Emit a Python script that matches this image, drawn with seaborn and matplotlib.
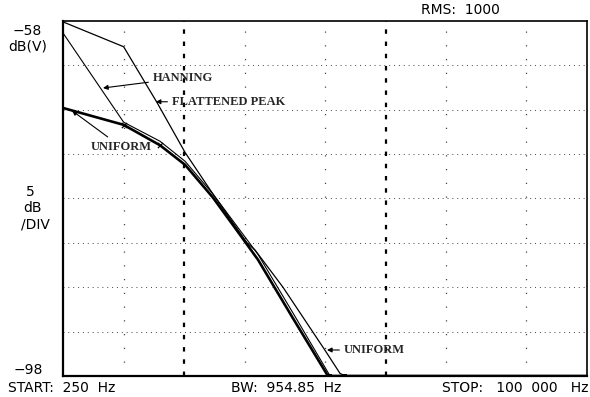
import numpy as np
import pandas as pd
import seaborn as sns
import matplotlib
matplotlib.use("Agg")
import matplotlib.pyplot as plt

# ---- data ----
freq_uniform = [250, 500, 758, 1009, 1389, 1786, 2324, 3467, 5172, 100000]
db_uniform = [-67.8, -69.7, -72.0, -74.2, -77.9, -81.3, -84.9, -91.5, -98.0, -98.0]

freq_hanning = [250, 500, 758, 1009, 1389, 2324, 3467, 5300, 100000]
db_hanning = [-59.35, -69.4, -71.55, -73.8, -77.5, -84.3, -90.9, -98.0, -98.0]

freq_flat = [250, 500, 733, 1009, 1389, 2050, 2246, 3093, 5000, 5933, 6283, 100000]
db_flat = [-58.1, -60.9, -67.2, -72.8, -77.5, -83.0, -83.8, -88.0, -95.1, -97.7, -98.0, -98.0]

y_top, y_bottom = -58, -98
f_start, f_stop = 250, 100000
major_freqs = [1000, 10000]
minor_freqs = [500, 2000, 5000, 20000, 50000]
db_grid = [-63, -68, -73, -78, -83, -88, -93]

sns.set_theme(style="white")
plt.rcParams["font.family"] = ["DejaVu Sans"]

W, H = 590, 397
fig = plt.figure(figsize=(W / 100, H / 100), dpi=100)
ax = fig.add_axes([63 / W, 1 - 376 / H, (587 - 63) / W, (376 - 21) / H])

# grid
for yv in db_grid:
    ax.axhline(yv, color="#444444", lw=0.7, ls=(0, (1, 4)), zorder=1)
for fv in minor_freqs:
    ax.axvline(fv, color="#444444", lw=0.9, ls=(0, (1, 10)), zorder=1)
for fv in major_freqs:
    ax.axvline(fv, color="black", lw=1.6, ls=(0, (2, 3.5)), zorder=1)

df_u = pd.DataFrame({"f": freq_uniform, "db": db_uniform})
df_h = pd.DataFrame({"f": freq_hanning, "db": db_hanning})
df_f = pd.DataFrame({"f": freq_flat, "db": db_flat})

sns.lineplot(data=df_f, x="f", y="db", ax=ax, color="black", lw=0.9, estimator=None, sort=False, zorder=3)
sns.lineplot(data=df_u, x="f", y="db", ax=ax, color="black", lw=1.9, estimator=None, sort=False, zorder=4)
sns.lineplot(data=df_h, x="f", y="db", ax=ax, color="black", lw=0.8, estimator=None, sort=False, zorder=5)

# small plotter markers
sns.scatterplot(x=[freq_uniform[1], freq_uniform[2]], y=[db_uniform[1], db_uniform[2]], ax=ax,
                marker="x", color="black", s=14, linewidth=0.9, zorder=6)
sns.scatterplot(x=[freq_hanning[7], freq_flat[10]], y=[db_hanning[7], db_flat[10]], ax=ax,
                marker="s", color="black", s=8, linewidth=0, zorder=6)

ax.set_xscale("log")
ax.set_xlim(f_start, f_stop)
ax.set_ylim(y_bottom, y_top)
ax.set_xticks([])
ax.set_yticks([])
ax.minorticks_off()
ax.set_xlabel("")
ax.set_ylabel("")
for s in ax.spines.values():
    s.set_color("black")
    s.set_linewidth(1.2)
ax.spines["left"].set_linewidth(1.6)
ax.spines["bottom"].set_linewidth(1.6)

# annotations
lab = dict(fontsize=9, fontweight="bold", family="Liberation Serif", va="center", ha="left")
arr = dict(arrowstyle="-|>", color="black", lw=0.8, mutation_scale=7, shrinkA=1, shrinkB=0)
ax.annotate("HANNING", xy=(395, -65.55), xytext=(700, -64.4), arrowprops=arr, **lab)
ax.annotate("FLATTENED PEAK", xy=(722, -67.1), xytext=(870, -67.1), arrowprops=arr, **lab)
ax.annotate("UNIFORM", xy=(277, -68.1), xytext=(344, -72.2), arrowprops=arr, **lab)
ax.annotate("UNIFORM", xy=(5114, -95.07), xytext=(6213, -95.07), arrowprops=arr, **lab)

# surrounding texts
def ftext(x, y, s, ha="left", size=10):
    fig.text(x / W, 1 - y / H, s, ha=ha, va="center", fontsize=size, color="black")

ftext(42, 31, "\u221258", ha="right")
ftext(28, 46, "dB(V)", ha="center")
ftext(30, 192, "5", ha="center")
ftext(33, 208, "dB", ha="center")
ftext(35, 225, "/DIV", ha="center")
ftext(43, 370, "\u221298", ha="right")

ftext(8, 388, "START:  250  Hz")
ftext(231, 388, "BW:  954.85  Hz")
ftext(588, 388, "STOP:   100  000   Hz", ha="right")
ftext(421, 10, "RMS:  1000")

fig.savefig("out.png", dpi=100)
